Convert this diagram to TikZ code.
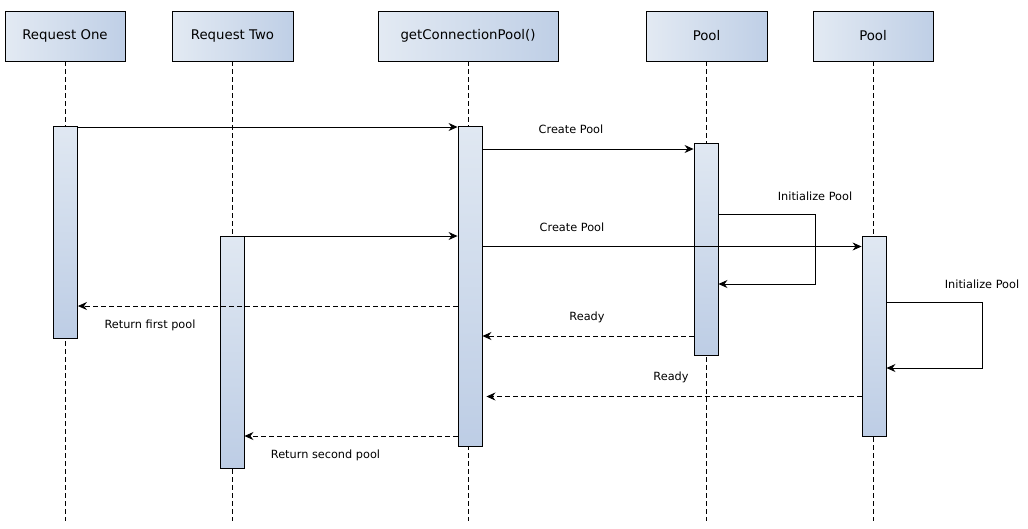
\documentclass[tikz,border=0pt]{standalone}
\usepackage{fontspec}
\setmainfont{DejaVu Sans}
\usetikzlibrary{arrows.meta}
\definecolor{hl}{HTML}{E3EAF3}
\definecolor{hr}{HTML}{BFCFE6}
\definecolor{al}{HTML}{E0E8F2}
\definecolor{ab}{HTML}{BDCDE5}
\tikzset{
  head/.style={draw, line width=0.9pt, minimum height=50pt, inner sep=0pt,
    left color=hl, right color=hr, font=\fontsize{13.3}{15}\selectfont},
  act/.style={draw, line width=0.9pt, minimum width=24pt, inner sep=0pt,
    top color=al, bottom color=ab},
  life/.style={line width=0.8pt, dash pattern=on 5pt off 3pt},
  msg/.style={line width=0.8pt, -{Stealth[length=9pt,width=8pt,inset=3pt]}},
  ret/.style={msg, dash pattern=on 5pt off 3pt},
  lbl/.style={font=\fontsize{11.3}{13}\selectfont, inner sep=0pt}
}
\begin{document}
\begin{tikzpicture}[x=1pt,y=-1pt]
\useasboundingbox (0,0) rectangle (1028,528);
% headers
\node[head, minimum width=120pt] (h1) at (65,36) {Request One};
\node[head, minimum width=121pt] (h2) at (232.5,36) {Request Two};
\node[head, minimum width=180pt] (h3) at (468,36) {getConnectionPool()};
\node[head, minimum width=121pt] (h4) at (706.5,36) {Pool};
\node[head, minimum width=120pt] (h5) at (873,36) {Pool};
% lifeline ends
\coordinate (e1) at (65,521);
\coordinate (e2) at (232.5,521);
\coordinate (e3) at (468,521);
\coordinate (e4) at (706.5,521);
\coordinate (e5) at (873,521);
\draw[life] (h1.south) -- (h1.south |- e1);
\draw[life] (h2.south) -- (h2.south |- e2);
\draw[life] (h3.south) -- (h3.south |- e3);
\draw[life] (h4.south) -- (h4.south |- e4);
\draw[life] (h5.south) -- (h5.south |- e5);
% activations
\node[act, minimum height=212pt] (a1) at (65.5,232) {};
\node[act, minimum height=232pt] (a2) at (232,352) {};
\node[act, minimum height=320pt] (a3) at (470,286.5) {};
\node[act, minimum height=212pt] (a4) at (706,249) {};
\node[act, minimum height=200pt] (a5) at (874,336) {};
% message heights
\coordinate (y1) at (0,127);
\coordinate (y2) at (0,149);
\coordinate (y3) at (0,214);
\coordinate (y4) at (0,284);
\coordinate (y5) at (0,236);
\coordinate (y6) at (0,246.5);
\coordinate (y7) at (0,306);
\coordinate (y8) at (0,336);
\coordinate (y9) at (0,302);
\coordinate (y10) at (0,368);
\coordinate (y11) at (0,396.5);
\coordinate (y12) at (0,436);
% messages
\draw[msg] (a1.east |- y1) -- (a3.west |- y1);
\draw[msg] (a3.east |- y2) -- (a4.west |- y2);
\draw[msg] (a4.east |- y3) -- ++(97,0) |- (a4.east |- y4);
\draw[msg] (a2.east |- y5) -- (a3.west |- y5);
\draw[msg] (a3.east |- y6) -- (a5.west |- y6);
\draw[ret] (a3.west |- y7) -- (a1.east |- y7);
\draw[ret] (a4.west |- y8) -- (a3.east |- y8);
\draw[msg] (a5.east |- y9) -- ++(96,0) |- (a5.east |- y10);
\draw[ret] (a5.west |- y11) -- ([xshift=4pt]a3.east |- y11);
\draw[ret] (a3.west |- y12) -- (a2.east |- y12);
% labels
\node[lbl] (l1) at (571,129) {Create Pool};
\node[lbl] (l2) at (815,196) {Initialize Pool};
\node[lbl] (l3) at (572,227) {Create Pool};
\node[lbl] (l4) at (150,325) {Return first pool};
\node[lbl] (l5) at (587,317) {Ready};
\node[lbl] (l6) at (982,284) {Initialize Pool};
\node[lbl] (l7) at (671,377) {Ready};
\node[lbl] (l8) at (325.5,455) {Return second pool};
\end{tikzpicture}
\end{document}
